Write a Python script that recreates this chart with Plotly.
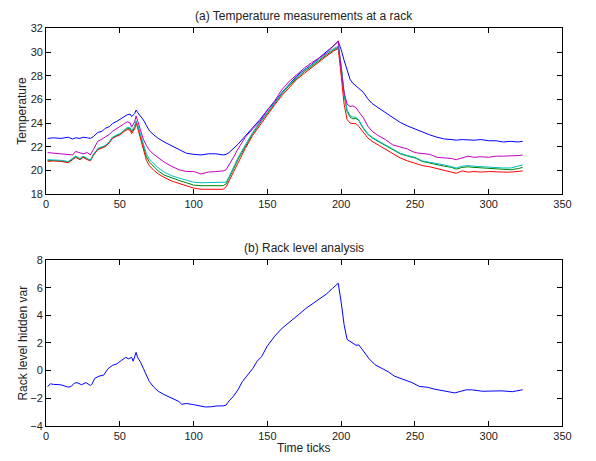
import plotly.graph_objects as go

# ---- data ----
t = [1, 5, 10, 15, 18, 20, 23, 25, 28, 30,
     32, 35, 38, 40, 43, 45, 48, 50, 53, 55,
     57, 58, 60, 61, 62, 64, 66, 68, 70, 73,
     76, 80, 85, 90, 95, 100, 105, 110, 115, 120,
     122, 124, 127, 130, 135, 140, 145, 150, 155, 160,
     165, 170, 175, 180, 185, 190, 195, 198, 200, 202,
     204, 206, 208, 210, 212, 215, 218, 221, 225, 230,
     235, 240, 245, 250, 255, 260, 265, 270, 275, 278,
     282, 286, 290, 295, 300, 305, 310, 315, 320, 323]

blue = [22.7, 22.75, 22.7, 22.8, 22.65, 22.75, 22.7, 22.8, 22.75, 22.7,
        22.85, 23.2, 23.3, 23.55, 23.7, 23.95, 24.15, 24.3, 24.5, 24.7,
        24.75, 24.55, 24.8, 25.1, 24.9, 24.6, 24.25, 23.8, 23.35, 23.0,
        22.7, 22.4, 22.1, 21.75, 21.45, 21.35, 21.3, 21.4, 21.4, 21.3,
        21.35, 21.5, 21.85, 22.2, 22.9, 23.6, 24.3, 25.1, 25.8, 26.6,
        27.3, 28.0, 28.5, 28.95, 29.5, 30.0, 30.55, 30.9, 30.2, 29.3,
        28.4, 27.7, 27.35, 27.15, 26.95, 26.6, 26.05, 25.65, 25.3, 24.9,
        24.45, 24.05, 23.75, 23.5, 23.2, 23.0, 22.8, 22.65, 22.6, 22.55,
        22.6, 22.55, 22.55, 22.6, 22.5, 22.5, 22.4, 22.45, 22.4, 22.45]

green = [20.85, 20.85, 20.8, 20.7, 20.95, 21.15, 20.95, 21.15, 20.95, 20.85,
         21.3, 21.8, 21.95, 22.05, 22.4, 22.75, 22.95, 23.05, 23.35, 23.55,
         23.5, 23.25, 23.6, 24.1, 23.75, 22.9, 21.9, 21.15, 20.7, 20.3,
         19.95, 19.6, 19.35, 19.15, 18.95, 18.75, 18.7, 18.7, 18.75, 18.7,
         18.85, 19.3, 20.1, 20.9, 22.0, 23.1, 24.0, 24.85, 25.7, 26.5,
         27.2, 27.8, 28.35, 28.8, 29.3, 29.75, 30.2, 30.4, 28.8, 26.4,
         25.0, 24.5, 24.35, 24.4, 24.2, 23.55, 23.05, 22.75, 22.45, 22.1,
         21.75, 21.4, 21.2, 21.05, 20.75, 20.6, 20.45, 20.35, 20.25, 20.1,
         20.25, 20.3, 20.25, 20.2, 20.2, 20.15, 20.1, 20.05, 20.15, 20.25]

red = [20.75, 20.8, 20.75, 20.65, 20.9, 21.1, 20.9, 21.1, 20.9, 20.8,
       21.25, 21.75, 21.9, 22.0, 22.35, 22.7, 22.9, 23.0, 23.3, 23.45,
       23.4, 23.1, 23.5, 24.0, 23.6, 22.7, 21.6, 20.85, 20.4, 20.0,
       19.7, 19.4, 19.1, 18.9, 18.7, 18.5, 18.4, 18.4, 18.45, 18.4,
       18.6, 19.1, 19.9, 20.7, 21.85, 22.95, 23.85, 24.7, 25.55, 26.35,
       27.05, 27.7, 28.2, 28.7, 29.2, 29.65, 30.1, 30.3, 28.0, 25.6,
       24.3, 24.0, 23.95, 23.95, 23.7, 23.2, 22.75, 22.45, 22.15, 21.75,
       21.4, 21.05, 20.8, 20.6, 20.4, 20.3, 20.15, 20.0, 19.8, 19.75,
       19.95, 19.85, 19.9, 19.85, 19.9, 19.85, 19.85, 19.85, 19.9, 19.95]

cyan = [20.9, 20.9, 20.85, 20.75, 21.0, 21.2, 21.0, 21.2, 21.0, 20.85,
        21.35, 21.85, 22.0, 22.1, 22.45, 22.8, 23.0, 23.1, 23.4, 23.65,
        23.6, 23.35, 23.7, 24.2, 23.85, 23.05, 22.1, 21.4, 20.95, 20.55,
        20.2, 19.85, 19.55, 19.35, 19.15, 19.0, 18.95, 18.95, 18.95, 18.95,
        19.0, 19.45, 20.25, 21.05, 22.15, 23.2, 24.1, 24.95, 25.8, 26.55,
        27.3, 27.9, 28.45, 28.9, 29.4, 29.85, 30.3, 30.5, 28.9, 26.5,
        25.1, 24.65, 24.5, 24.5, 24.25, 23.6, 23.1, 22.8, 22.5, 22.15,
        21.8, 21.45, 21.25, 21.1, 20.8, 20.7, 20.55, 20.45, 20.3, 20.2,
        20.35, 20.4, 20.35, 20.3, 20.3, 20.25, 20.2, 20.2, 20.35, 20.45]

magenta = [21.5, 21.45, 21.4, 21.3, 21.3, 21.6, 21.45, 21.4, 21.5, 21.3,
           21.75, 22.45, 22.65, 22.8, 23.05, 23.3, 23.5, 23.7, 23.95, 24.1,
           24.0, 23.65, 24.1, 24.6, 24.2, 23.3, 22.6, 22.1, 21.7, 21.35,
           21.05, 20.7, 20.35, 20.05, 19.9, 19.9, 19.7, 19.85, 19.9, 19.95,
           20.05, 20.45, 21.1, 21.8, 22.8, 23.5, 24.15, 25.1, 25.9, 26.85,
           27.55, 28.1, 28.65, 29.1, 29.5, 29.9, 30.55, 30.95, 28.5, 26.6,
           25.6, 25.4, 25.45, 25.3, 24.95, 24.45, 23.75, 23.3, 22.95, 22.6,
           22.15, 22.0, 21.8, 21.5, 21.45, 21.35, 21.1, 21.05, 21.0, 20.9,
           21.05, 21.2, 21.1, 21.15, 21.1, 21.2, 21.2, 21.2, 21.25, 21.3]

hx = [1, 3, 5, 10, 15, 17, 19, 21, 24, 27,
      30, 31, 33, 36, 39, 42, 45, 48, 51, 54,
      56, 58, 59, 61, 62, 64, 66, 68, 70, 73,
      76, 80, 85, 90, 92, 95, 100, 105, 108, 112,
      116, 120, 122, 124, 127, 130, 133, 136, 140, 143,
      146, 150, 155, 160, 165, 170, 176, 183, 190, 194,
      198, 200, 202, 204, 206, 210, 212, 215, 219, 223,
      227, 232, 236, 241, 245, 248, 253, 258, 263, 267,
      272, 277, 280, 285, 289, 296, 303, 309, 316, 323]
hidden = [-1.15, -0.96, -1.0, -1.03, -1.2, -1.15, -0.92, -0.87, -1.03, -0.87,
          -1.08, -1.0, -0.56, -0.4, -0.33, 0.14, 0.38, 0.49, 0.73, 0.96,
          0.85, 0.96, 0.68, 1.32, 0.96, 0.61, 0.14, -0.33, -0.8, -1.2,
          -1.5, -1.74, -1.98, -2.24, -2.45, -2.38, -2.47, -2.56, -2.64, -2.62,
          -2.56, -2.56, -2.5, -2.2, -1.86, -1.4, -0.8, -0.4, 0.14, 0.68,
          1.0, 1.79, 2.5, 3.08, 3.55, 3.95, 4.5, 5.0, 5.55, 5.95,
          6.33, 4.96, 3.32, 2.26, 2.1, 1.84, 1.86, 1.43, 0.85, 0.42,
          0.21, -0.09, -0.4, -0.61, -0.73, -0.87, -1.15, -1.2, -1.34, -1.43,
          -1.5, -1.62, -1.53, -1.39, -1.4, -1.5, -1.48, -1.47, -1.53, -1.39]

x_ticks = [0, 50, 100, 150, 200, 250, 300, 350]
top_y_ticks = [18, 20, 22, 24, 26, 28, 30, 32]
bot_y_ticks = [-4, -2, 0, 2, 4, 6, 8]

series = [("blue", blue, "#0000ff"), ("green", green, "#008000"),
          ("red", red, "#ff0000"), ("cyan", cyan, "#00bfbf"),
          ("magenta", magenta, "#bf00bf")]

FONT = "Liberation Sans, Arial, Helvetica, sans-serif"

fig = go.Figure()
for name, vals, col in series:
    fig.add_trace(go.Scatter(x=t, y=vals, mode="lines", name=name,
                             line=dict(color=col, width=1),
                             xaxis="x", yaxis="y", showlegend=False))
fig.add_trace(go.Scatter(x=hx, y=hidden, mode="lines", name="hidden",
                         line=dict(color="#0000ff", width=1),
                         xaxis="x2", yaxis="y2", showlegend=False))

axcommon = dict(showline=True, linecolor="black", linewidth=1, mirror="ticks",
                ticks="inside", ticklen=5, tickcolor="black", showgrid=False,
                zeroline=False, tickfont=dict(family=FONT, size=11, color="#222"))

fig.update_layout(
    width=596, height=461,
    margin=dict(l=0, r=0, t=0, b=0),
    paper_bgcolor="white", plot_bgcolor="white",
    font=dict(family=FONT, size=11, color="#222"),
    xaxis=dict(domain=[0.0738, 0.958], range=[0, 350], tickvals=x_ticks,
               anchor="y", **axcommon),
    yaxis=dict(domain=[0.5813, 0.9501], range=[18, 32], tickvals=top_y_ticks,
               anchor="x", **axcommon),
    xaxis2=dict(domain=[0.0738, 0.958], range=[0, 350], tickvals=x_ticks,
                anchor="y2", **axcommon),
    yaxis2=dict(domain=[0.0651, 0.4338], range=[-4, 8], tickvals=bot_y_ticks,
                anchor="x2", **axcommon),
    annotations=[
        dict(text="(a) Temperature measurements at a rack", x=0.516, y=1 - 10 / 461,
             xref="paper", yref="paper", showarrow=False, xanchor="center",
             yanchor="middle", font=dict(family=FONT, size=12, color="#222")),
        dict(text="(b) Rack level analysis", x=0.516, y=1 - 248 / 461,
             xref="paper", yref="paper", showarrow=False, xanchor="center",
             yanchor="middle", font=dict(family=FONT, size=12, color="#222")),
        dict(text="Time ticks", x=0.516, y=1 - 454 / 461,
             xref="paper", yref="paper", showarrow=False, xanchor="center",
             yanchor="middle", font=dict(family=FONT, size=12, color="#222")),
        dict(text="Temperature", x=20 / 596, y=1 - 108 / 461, textangle=-90,
             xref="paper", yref="paper", showarrow=False, xanchor="center",
             yanchor="middle", font=dict(family=FONT, size=12, color="#222")),
        dict(text="Rack level hidden var", x=20 / 596, y=1 - 346 / 461, textangle=-90,
             xref="paper", yref="paper", showarrow=False, xanchor="center",
             yanchor="middle", font=dict(family=FONT, size=12, color="#222")),
    ],
)

fig.write_html("out.html")
